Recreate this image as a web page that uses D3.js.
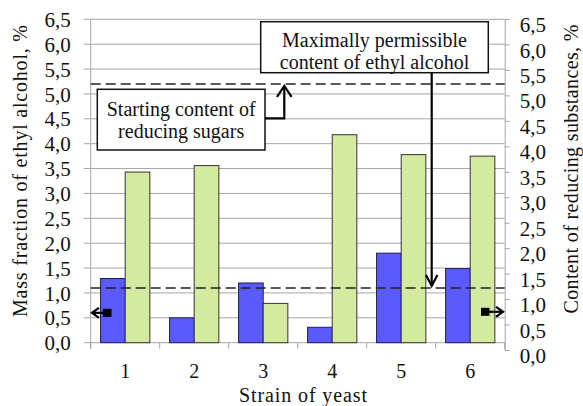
<!DOCTYPE html>
<html>
<head>
<meta charset="utf-8">
<script src="https://cdn.jsdelivr.net/npm/d3@7"></script>
<style>
  body { margin: 0; background: #fff; }
</style>
</head>
<body>
<svg id="chart" width="583" height="406"></svg>
<script>
// data
const strains = ["1", "2", "3", "4", "5", "6"];
const alcohol = [1.29, 0.50, 1.20, 0.31, 1.80, 1.49];   // left axis
const reducing = [3.43, 3.56, 0.79, 4.18, 3.78, 3.75];  // drawn on left geometry
const axisTicks = [0, 0.5, 1, 1.5, 2, 2.5, 3, 3.5, 4, 4.5, 5, 5.5, 6, 6.5];
const limitAlcohol = 1.1;   // left scale
const startSugar = 5.2;     // left scale

const FONT = "Liberation Serif, Tinos, DejaVu Serif, Times New Roman, serif";
const svg = d3.select("#chart");
const fmt = v => d3.format(".1f")(v).replace(".", ",");

const left = 90.7, right = 504.7;
const yL = d3.scaleLinear().domain([0, 6.5]).range([342.7, 19.3]);
const yR = d3.scaleLinear().domain([0, 6.5]).range([350, 19]);
const x = d3.scaleBand().domain(strains).range([left, right]).padding(0);
const x1 = d3.scaleBand().domain(["alc", "red"]).range([0, x.bandwidth()])
    .paddingInner(0).paddingOuter(0.4);

// gridlines
svg.append("g").selectAll("line")
    .data(axisTicks)
    .join("line")
    .attr("x1", left - 7).attr("x2", right)
    .attr("y1", d => yL(d)).attr("y2", d => yL(d))
    .attr("stroke", "#a6a6a6").attr("stroke-width", 1);

// left axis
const gL = svg.append("g").attr("transform", `translate(${left},0)`)
    .call(d3.axisLeft(yL).tickValues(axisTicks).tickFormat(fmt).tickSize(0).tickPadding(20));
gL.select(".domain").attr("stroke", "#a6a6a6").attr("d", `M0,${yL(6.5)}V${yL(0) + 6}`);
gL.selectAll("text").attr("font-size", 21).attr("dy", "0.34em");

// x axis
const gX = svg.append("g").attr("transform", `translate(0,${yL(0)})`);
gX.selectAll("line")
    .data(d3.range(strains.length + 1))
    .join("line")
    .attr("x1", i => left + i * x.bandwidth()).attr("x2", i => left + i * x.bandwidth())
    .attr("y1", 0).attr("y2", 6)
    .attr("stroke", "#a6a6a6");
gX.selectAll("text")
    .data(strains)
    .join("text")
    .attr("x", d => x(d) + x.bandwidth() / 2)
    .attr("y", 35)
    .attr("text-anchor", "middle")
    .attr("font-size", 20)
    .text(d => d);

// right axis
const gR = svg.append("g").attr("transform", `translate(${right},0)`)
    .call(d3.axisRight(yR).tickValues(axisTicks).tickFormat(fmt).tickSize(5).tickSizeOuter(0).tickPadding(10));
gR.select(".domain").attr("stroke", "#a6a6a6");
gR.selectAll(".tick line").attr("stroke", "#a6a6a6");
gR.selectAll("text").attr("font-size", 21).attr("dy", "0.6em");

// bars
const groups = svg.append("g").selectAll("g")
    .data(strains)
    .join("g")
    .attr("transform", d => `translate(${x(d)},0)`);
groups.append("rect")
    .attr("x", x1("alc")).attr("width", x1.bandwidth())
    .attr("y", (d, i) => yL(alcohol[i]))
    .attr("height", (d, i) => yL(0) - yL(alcohol[i]))
    .attr("fill", "#5a5aff").attr("stroke", "#20205a").attr("stroke-width", 1);
groups.append("rect")
    .attr("x", x1("red")).attr("width", x1.bandwidth())
    .attr("y", (d, i) => yL(reducing[i]))
    .attr("height", (d, i) => yL(0) - yL(reducing[i]))
    .attr("fill", "#d4eaa0").attr("stroke", "#333").attr("stroke-width", 1);

// reference lines
[startSugar, limitAlcohol].forEach(v => {
    svg.append("line")
        .attr("x1", left).attr("x2", right)
        .attr("y1", yL(v)).attr("y2", yL(v))
        .attr("stroke", "#222").attr("stroke-width", 1.6)
        .attr("stroke-dasharray", "10,5");
});

// annotation boxes
function box(x0, y0, w, h, lines, cy) {
    svg.append("rect").attr("x", x0).attr("y", y0).attr("width", w).attr("height", h)
        .attr("fill", "#fff").attr("stroke", "#111").attr("stroke-width", 1.5);
    lines.forEach((t, i) => {
        svg.append("text").attr("x", x0 + w / 2).attr("y", cy + i * 22.4)
            .attr("text-anchor", "middle").attr("dy", "0.35em")
            .attr("font-size", 20).text(t);
    });
}
box(97.3, 89.3, 167.7, 60.7, ["Starting content of", "reducing sugars"], 108.5);
box(260.7, 21.7, 227.6, 51, ["Maximally permissible", "content of ethyl alcohol"], 39.5);

const pathStyle = p => p.attr("fill", "none").attr("stroke", "#000").attr("stroke-width", 2.2);
const tipUp = yL(startSugar) + 2;
svg.append("path").attr("d", `M265,118.3H284.3V${tipUp}`).call(pathStyle);
svg.append("path").attr("d", `M277,${tipUp + 11}L284.3,${tipUp}L291.6,${tipUp + 11}`).call(pathStyle);
const tipDown = yL(limitAlcohol) - 2;
svg.append("path").attr("d", `M431.7,72.7V${tipDown}`).call(pathStyle);
svg.append("path").attr("d", `M426,${tipDown - 11}L431.7,${tipDown}L437.4,${tipDown - 11}`).call(pathStyle);

// axis pointers
const yp1 = yL(0.6);
svg.append("rect").attr("x", 103).attr("y", yp1 - 4).attr("width", 8.5).attr("height", 8).attr("fill", "#000");
svg.append("path").attr("d", `M103,${yp1}H92`).call(pathStyle);
svg.append("path").attr("d", `M99,${yp1 - 5}L92,${yp1}L99,${yp1 + 5}`).call(pathStyle);
const yp2 = yR(0.75);
svg.append("rect").attr("x", 481).attr("y", yp2 - 4).attr("width", 8.5).attr("height", 8).attr("fill", "#000");
svg.append("path").attr("d", `M489,${yp2}H503`).call(pathStyle);
svg.append("path").attr("d", `M496,${yp2 - 5}L503,${yp2}L496,${yp2 + 5}`).call(pathStyle);

// axis titles
svg.append("text").attr("transform", "translate(20,171) rotate(-90)")
    .attr("text-anchor", "middle").attr("dy", "0.35em").attr("font-size", 20)
    .attr("textLength", 292).attr("lengthAdjust", "spacing")
    .text("Mass fraction of ethyl alcohol, %");
svg.append("text").attr("transform", "translate(571,169) rotate(-90)")
    .attr("text-anchor", "middle").attr("dy", "0.35em").attr("font-size", 20)
    .attr("textLength", 289).attr("lengthAdjust", "spacing")
    .text("Content of reducing substances, %");
svg.append("text").attr("x", 303).attr("y", 395).attr("dy", "0.35em")
    .attr("text-anchor", "middle").attr("font-size", 20)
    .attr("textLength", 128).attr("lengthAdjust", "spacing")
    .text("Strain of yeast");

// every text in the serif face
svg.selectAll("text").attr("font-family", FONT).attr("fill", "#111");
</script>
</body>
</html>
